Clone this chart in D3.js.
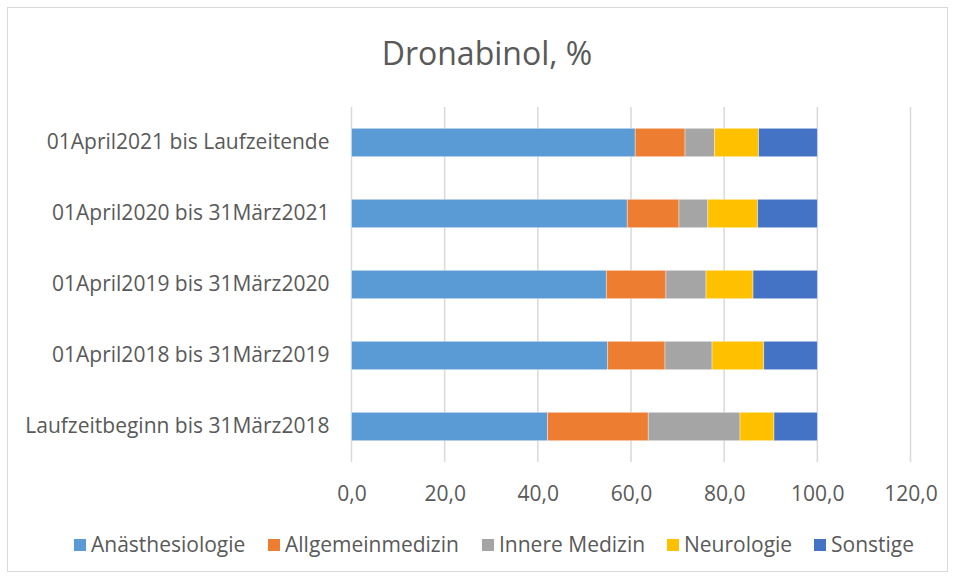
<!DOCTYPE html>
<html>
<head>
<meta charset="utf-8">
<script src="https://cdn.jsdelivr.net/npm/d3@7"></script>
<style>
  body { margin: 0; background: #fff; }
  text { font-family: "Open Sans", sans-serif; fill: #595959; }
</style>
</head>
<body>
<div id="chart"></div>
<script>
// categories, top to bottom
var categories = [
    "01April2021 bis Laufzeitende",
    "01April2020 bis 31März2021",
    "01April2019 bis 31März2020",
    "01April2018 bis 31März2019",
    "Laufzeitbeginn bis 31März2018"
];
var seriesNames = ["Anästhesiologie", "Allgemeinmedizin", "Innere Medizin", "Neurologie", "Sonstige"];
var colors = ["#5B9BD5", "#ED7D31", "#A5A5A5", "#FFC000", "#4472C4"];

// values per series, same order as categories
var anaesthesiologie = [60.9, 59.2, 54.7, 55.0, 42.1];
var allgemeinmedizin = [10.7, 11.1, 12.8, 12.3, 21.6];
var innereMedizin    = [6.3, 6.2, 8.6, 10.1, 19.7];
var neurologie       = [9.5, 10.7, 10.1, 11.1, 7.3];
var sonstige         = [12.6, 12.8, 13.8, 11.5, 9.3];
var tickValues = [0, 20, 40, 60, 80, 100, 120];

var width = 955, height = 579;
var margin = { left: 351.5, right: 955 - 910.5, top: 107, bottom: 579 - 462 };

var svg = d3.select("#chart").append("svg")
    .attr("width", width)
    .attr("height", height);

// outer chart border
svg.append("rect")
    .attr("x", 7.5).attr("y", 7.5)
    .attr("width", 940).attr("height", 564)
    .attr("fill", "#fff")
    .attr("stroke", "#D9D9D9");

var x = d3.scaleLinear()
    .domain([0, 120])
    .range([margin.left, width - margin.right]);

var y = d3.scaleBand()
    .domain(categories)
    .range([margin.top, height - margin.bottom])
    .paddingInner(0.6)
    .paddingOuter(0.3);

// build table for stack
var table = categories.map(function(c, i) {
    return {
        cat: c,
        "Anästhesiologie": anaesthesiologie[i],
        "Allgemeinmedizin": allgemeinmedizin[i],
        "Innere Medizin": innereMedizin[i],
        "Neurologie": neurologie[i],
        "Sonstige": sonstige[i]
    };
});
var stacked = d3.stack().keys(seriesNames)(table);

// gridlines
svg.append("g")
    .selectAll("line")
    .data(tickValues)
    .enter()
    .append("line")
    .attr("x1", function(d) { return x(d); })
    .attr("x2", function(d) { return x(d); })
    .attr("y1", margin.top)
    .attr("y2", height - margin.bottom)
    .attr("stroke", "#D9D9D9")
    .attr("stroke-width", 1.5);

// bars
svg.append("g")
    .selectAll("g")
    .data(stacked)
    .enter()
    .append("g")
    .attr("fill", function(d, i) { return colors[i]; })
    .selectAll("rect")
    .data(function(d) { return d; })
    .enter()
    .append("rect")
    .attr("x", function(d) { return x(d[0]); })
    .attr("width", function(d) { return x(d[1]) - x(d[0]); })
    .attr("y", function(d) { return y(d.data.cat); })
    .attr("height", y.bandwidth())
    .attr("stroke", "#fff")
    .attr("stroke-opacity", 0.5)
    .attr("stroke-width", 0.75);

// x axis labels
var xAxis = d3.axisBottom(x)
    .tickValues(tickValues)
    .tickSize(0)
    .tickPadding(0)
    .tickFormat(function(d) { return d3.format(".1f")(d).replace(".", ","); });

var gx = svg.append("g")
    .attr("transform", "translate(0," + (height - margin.bottom) + ")")
    .call(xAxis);
gx.select(".domain").remove();
gx.selectAll("text")
    .attr("dy", 0)
    .attr("y", 39)
    .style("font-size", "21px")
    .style("font-family", "'Open Sans', sans-serif")
    .attr("fill", "#595959");

// y axis labels
var yAxis = d3.axisLeft(y).tickSize(0).tickPadding(22);
var gy = svg.append("g")
    .attr("transform", "translate(" + margin.left + ",0)")
    .call(yAxis);
gy.select(".domain").remove();
gy.selectAll("text")
    .style("font-size", "21px")
    .style("font-family", "'Open Sans', sans-serif")
    .attr("fill", "#595959");

// title
svg.append("text")
    .attr("x", 487)
    .attr("y", 65)
    .attr("text-anchor", "middle")
    .style("font-size", "32px")
    .text("Dronabinol, %");

// legend
var legendX = [74, 268, 482, 667, 814];
var legend = svg.append("g")
    .selectAll("g")
    .data(seriesNames)
    .enter()
    .append("g")
    .attr("transform", function(d, i) { return "translate(" + legendX[i] + ",545)"; });
legend.append("rect")
    .attr("x", 0).attr("y", -6)
    .attr("width", 12).attr("height", 12)
    .attr("fill", function(d, i) { return colors[i]; });
legend.append("text")
    .attr("x", 17)
    .attr("y", 0)
    .attr("dy", "0.35em")
    .style("font-size", "21px")
    .text(function(d) { return d; });
</script>
</body>
</html>
